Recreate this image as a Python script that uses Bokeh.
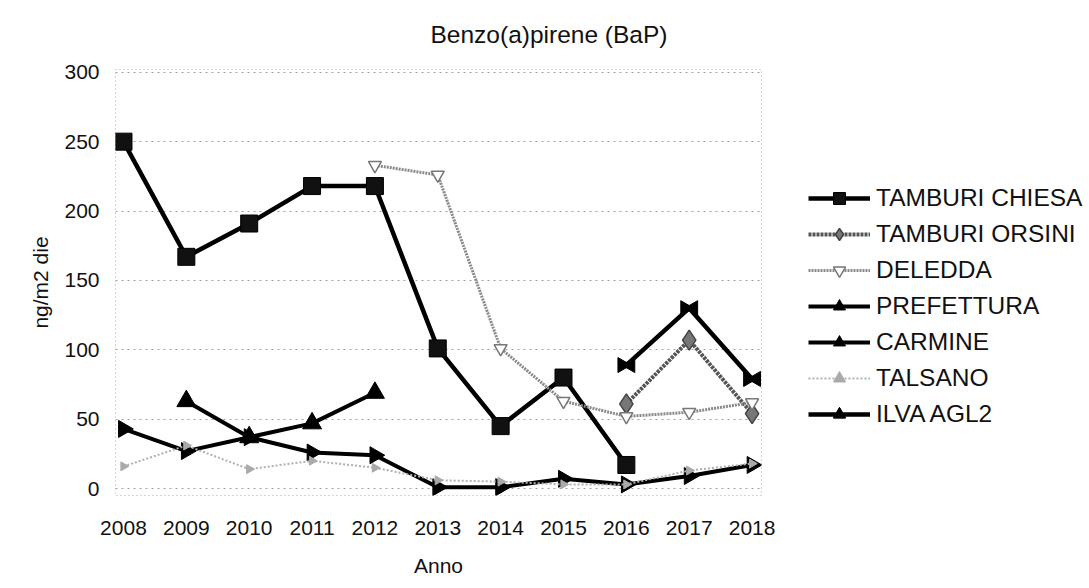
import numpy as np
from bokeh.plotting import figure
from bokeh.models import Range1d, FixedTicker, Legend, LegendItem, ColumnDataSource
from bokeh.transform import dodge
from bokeh.embed import file_html
from bokeh.resources import INLINE

nan = float("nan")

years = [2008, 2009, 2010, 2011, 2012, 2013, 2014, 2015, 2016, 2017, 2018]
tamburi_chiesa = [250, 167, 191, 218, 218, 101, 45, 80, 17, nan, nan]
tamburi_orsini = [nan, nan, nan, nan, nan, nan, nan, nan, 61, 107, 54]
deledda = [nan, nan, nan, nan, 233, 226, 101, 63, 52, 55, 62]
prefettura = [nan, 63, 37, 47, 69, nan, nan, nan, nan, nan, nan]
carmine = [43, 27, 37, 26, 24, 1, 1, 7, 3, 9, 17]
talsano = [16, 31, 14, 20, 15, 6, 5, 3, 3, 13, 18]
ilva_agl2 = [nan, nan, nan, nan, nan, nan, nan, nan, 89, 130, 79]

y_ticks = [0, 50, 100, 150, 200, 250, 300]

FONT = "Liberation Sans"

p = figure(
    width=1080, height=580,
    frame_width=646, frame_height=426,
    min_border_left=115, min_border_right=319,
    min_border_top=69, min_border_bottom=85,
    x_range=Range1d(2007.873, 2018.15),
    y_range=Range1d(-5, 302),
    output_backend="svg", toolbar_location=None,
)
p.background_fill_color = "white"
p.border_fill_color = "white"
p.outline_line_color = "#aaaaaa"
p.outline_line_dash = "1 3"

p.title.text = "Benzo(a)pirene (BaP)"
p.title.text_font = FONT
p.title.text_font_size = "24.5px"
p.title.text_font_style = "normal"
p.title.text_color = "#111111"
p.title.align = "left"
p.title.offset = 315
p.title.vertical_align = "top"
p.title.standoff = 40

p.xgrid.grid_line_color = None
p.ygrid.grid_line_color = "#a0a0a0"
p.ygrid.grid_line_dash = "2 4"
p.ygrid.grid_line_width = 1

p.xaxis.ticker = FixedTicker(ticks=years)
p.yaxis.ticker = FixedTicker(ticks=y_ticks)
for ax in (p.xaxis, p.yaxis):
    ax.axis_line_color = None
    ax.major_tick_line_color = None
    ax.minor_tick_line_color = None
    ax.major_label_text_font = FONT
    ax.major_label_text_font_size = "21px"
    ax.major_label_text_color = "#111111"
    ax.axis_label_text_font = FONT
    ax.axis_label_text_font_size = "21px"
    ax.axis_label_text_font_style = "normal"
    ax.axis_label_text_color = "#111111"
p.yaxis.major_label_standoff = 10
p.xaxis.major_label_standoff = 19
p.xaxis.axis_label = "Anno"
p.yaxis.axis_label = "ng/m2 die"
p.xaxis.axis_label_standoff = 16
p.yaxis.axis_label_standoff = 9

src = ColumnDataSource(dict(
    x=years, chiesa=tamburi_chiesa, orsini=tamburi_orsini, deledda=deledda,
    pref=prefettura, carmine=carmine, talsano=talsano, ilva=ilva_agl2,
))

items = []

# TAMBURI CHIESA
l1 = p.line("x", "chiesa", source=src, line_color="black", line_width=4.5)
m1 = p.scatter("x", "chiesa", source=src, marker="square", size=17,
               fill_color="#111111", line_color="black")
items.append(LegendItem(label="TAMBURI CHIESA", renderers=[l1, m1]))

# TAMBURI ORSINI
l2 = p.line("x", "orsini", source=src, line_color="#555555", line_width=4, line_dash="3 1")
m2 = p.scatter("x", "orsini", source=src, marker="diamond", size=20,
               fill_color="#777777", line_color="#444444", line_width=1.5)
items.append(LegendItem(label="TAMBURI ORSINI", renderers=[l2, m2]))

# DELEDDA
l3 = p.line("x", "deledda", source=src, line_color="#8a8a8a", line_width=3, line_dash="2 1")
m3 = p.scatter("x", "deledda", source=src, marker="inverted_triangle", size=13,
               fill_color="white", line_color="#777777", line_width=1.5)
items.append(LegendItem(label="DELEDDA", renderers=[l3, m3]))

# PREFETTURA
l4 = p.line("x", "pref", source=src, line_color="black", line_width=4)
m4 = p.scatter("x", "pref", source=src, marker="triangle", size=19,
               fill_color="black", line_color="black")
items.append(LegendItem(label="PREFETTURA", renderers=[l4, m4]))

# CARMINE
l5 = p.line("x", "carmine", source=src, line_color="black", line_width=4)
m5 = p.scatter("x", "carmine", source=src, marker="triangle", size=17, angle=-np.pi / 2,
               fill_color="black", line_color="black")
items.append(LegendItem(label="CARMINE", renderers=[l5, m5]))

# TALSANO
l6 = p.line("x", "talsano", source=src, line_color="#b0b0b0", line_width=2, line_dash="2 2")
m6 = p.scatter("x", "talsano", source=src, marker="triangle", size=9, angle=-np.pi / 2,
               fill_color="#aaaaaa", line_color="#aaaaaa")
items.append(LegendItem(label="TALSANO", renderers=[l6, m6]))

# ILVA AGL2 (bow-tie marker from two triangles)
l7 = p.line("x", "ilva", source=src, line_color="black", line_width=4.5)
m7a = p.scatter(dodge("x", -0.065, range=p.x_range), "ilva", source=src, marker="triangle",
                size=15, angle=-np.pi / 2, fill_color="black", line_color="black")
m7b = p.scatter(dodge("x", 0.065, range=p.x_range), "ilva", source=src, marker="triangle",
                size=15, angle=np.pi / 2, fill_color="black", line_color="black")
items.append(LegendItem(label="ILVA AGL2", renderers=[l7, m7a, m7b]))

legend = Legend(
    items=items, location=(47, 66), orientation="vertical",
    glyph_width=62, glyph_height=30, label_height=30, spacing=6,
    label_standoff=6, padding=0, margin=0,
    label_text_font=FONT, label_text_font_size="24.5px", label_text_color="#111111",
    border_line_color=None, background_fill_alpha=0,
)
p.add_layout(legend, "right")

open("out.html", "w").write(file_html(p, INLINE))
